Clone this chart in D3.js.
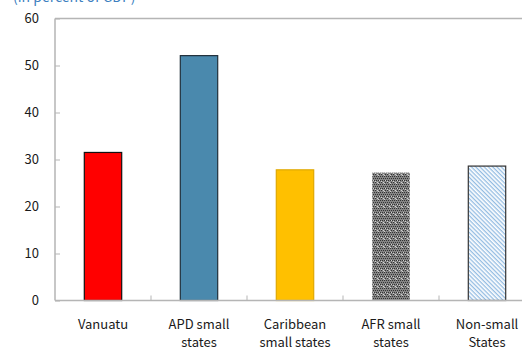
<!DOCTYPE html>
<html>
<head>
<meta charset="utf-8">
<script src="https://cdn.jsdelivr.net/npm/d3@7"></script>
<style>
  html, body { margin: 0; padding: 0; background: #fff; }
  svg { display: block; }
  text { font-family: "Noto Sans CJK KR", "Open Sans", sans-serif; fill: #1a1a1a; }
</style>
</head>
<body>
<svg id="chart" width="522" height="352"></svg>
<script>
// Series: ratio to GDP by country group
const categories = [["Vanuatu"], ["APD small", "states"], ["Caribbean", "small states"], ["AFR small", "states"], ["Non-small", "States"]];
const values = [31.5, 52.1, 27.8, 27.2, 28.6];
const yTicks = [0, 10, 20, 30, 40, 50, 60];
const title = "(in percent of GDP)";

const svg = d3.select("#chart");
const plotLeft = 55, plotRight = 535, plotTop = 18.5, plotBottom = 300.5;

const defs = svg.append("defs");
// gray checkered fill
const chk = defs.append("pattern").attr("id", "checker")
  .attr("patternUnits", "userSpaceOnUse").attr("width", 6).attr("height", 8);
chk.append("rect").attr("width", 6).attr("height", 8).attr("fill", "#858585");
[[0,0],[2,0],[4,0],[1,1],[3,1],[5,1],[0,2],[2,2],[4,2],[1,3],[3,3],[5,3]].forEach(([px, py]) => {
  chk.append("rect").attr("x", px).attr("y", py * 2).attr("width", 1).attr("height", 1)
    .attr("fill", (px + py) % 2 ? "#eeeeee" : "#333333");
});
[[1,4],[3,5],[5,6],[0,7]].forEach(([px, py]) => {
  chk.append("rect").attr("x", px).attr("y", py).attr("width", 1).attr("height", 1).attr("fill", "#cfcfcf");
});
// light blue diagonal hatch
const hatch = defs.append("pattern").attr("id", "hatch")
  .attr("patternUnits", "userSpaceOnUse").attr("width", 3).attr("height", 3)
  .attr("patternTransform", "rotate(45)");
hatch.append("rect").attr("width", 3).attr("height", 3).attr("fill", "#ffffff");
hatch.append("rect").attr("width", 3).attr("height", 1.3).attr("fill", "#93bce2");

const fills = ["#ff0000", "#4a89ad", "#ffc000", "url(#checker)", "url(#hatch)"];
const strokes = ["#111", "#1f2f3a", "#e0a800", "none", "#333"];

const x = d3.scaleBand().domain(d3.range(categories.length)).range([plotLeft, plotRight]).paddingInner(0.6).paddingOuter(0.3);
const xb = d3.scaleBand().domain(d3.range(categories.length)).range([plotLeft, plotRight]);
const y = d3.scaleLinear().domain([0, 60]).range([plotBottom, plotTop]);

// title
svg.append("text").attr("x", 13).attr("y", 1.5).attr("font-size", 14)
  .style("fill", "#3d7fbf").text(title);

// frame: top border
svg.append("line").attr("x1", plotLeft).attr("x2", 522).attr("y1", plotTop).attr("y2", plotTop)
  .attr("stroke", "#b5b5b5").attr("stroke-width", 1.5);

// y axis
const yAxis = svg.append("g").attr("transform", `translate(${plotLeft},0)`)
  .call(d3.axisRight(y).tickValues(yTicks).tickSize(5).tickFormat(""));
yAxis.select(".domain").attr("stroke", "#b5b5b5").attr("stroke-width", 1.5).attr("d", `M0,${plotTop}V${plotBottom}`);
yAxis.selectAll(".tick line").attr("stroke", "#b5b5b5");
svg.append("g").selectAll("text").data(yTicks).join("text")
  .attr("x", 39).attr("y", d => y(d)).attr("dy", "0.36em")
  .attr("text-anchor", "end").attr("font-size", 13).text(d => d);

// bars
svg.append("g").selectAll("rect").data(values).join("rect")
  .attr("x", (d, i) => x(i) + 0.5).attr("width", x.bandwidth() - 1)
  .attr("y", d => y(d)).attr("height", d => plotBottom - y(d))
  .attr("fill", (d, i) => fills[i])
  .attr("stroke", (d, i) => strokes[i]).attr("stroke-width", 1.2);

// x axis with category-boundary ticks
const xAxis = svg.append("g").attr("transform", `translate(0,${plotBottom})`);
xAxis.append("line").attr("x1", plotLeft).attr("x2", 522).attr("stroke", "#b5b5b5").attr("stroke-width", 1.5);
xAxis.selectAll("line.tk").data(d3.range(1, categories.length)).join("line").attr("class", "tk")
  .attr("x1", i => xb(i)).attr("x2", i => xb(i)).attr("y1", 0).attr("y2", -5)
  .attr("stroke", "#b5b5b5");

// category labels
const lab = svg.append("g").selectAll("text").data(categories).join("text")
  .attr("text-anchor", "middle").attr("font-size", 13)
  .attr("transform", (d, i) => `translate(${xb(i) + xb.bandwidth() / 2},329)`);
lab.selectAll("tspan").data(d => d).join("tspan")
  .attr("x", 0).attr("y", (d, j) => j * 18).text(d => d);
</script>
</body>
</html>
